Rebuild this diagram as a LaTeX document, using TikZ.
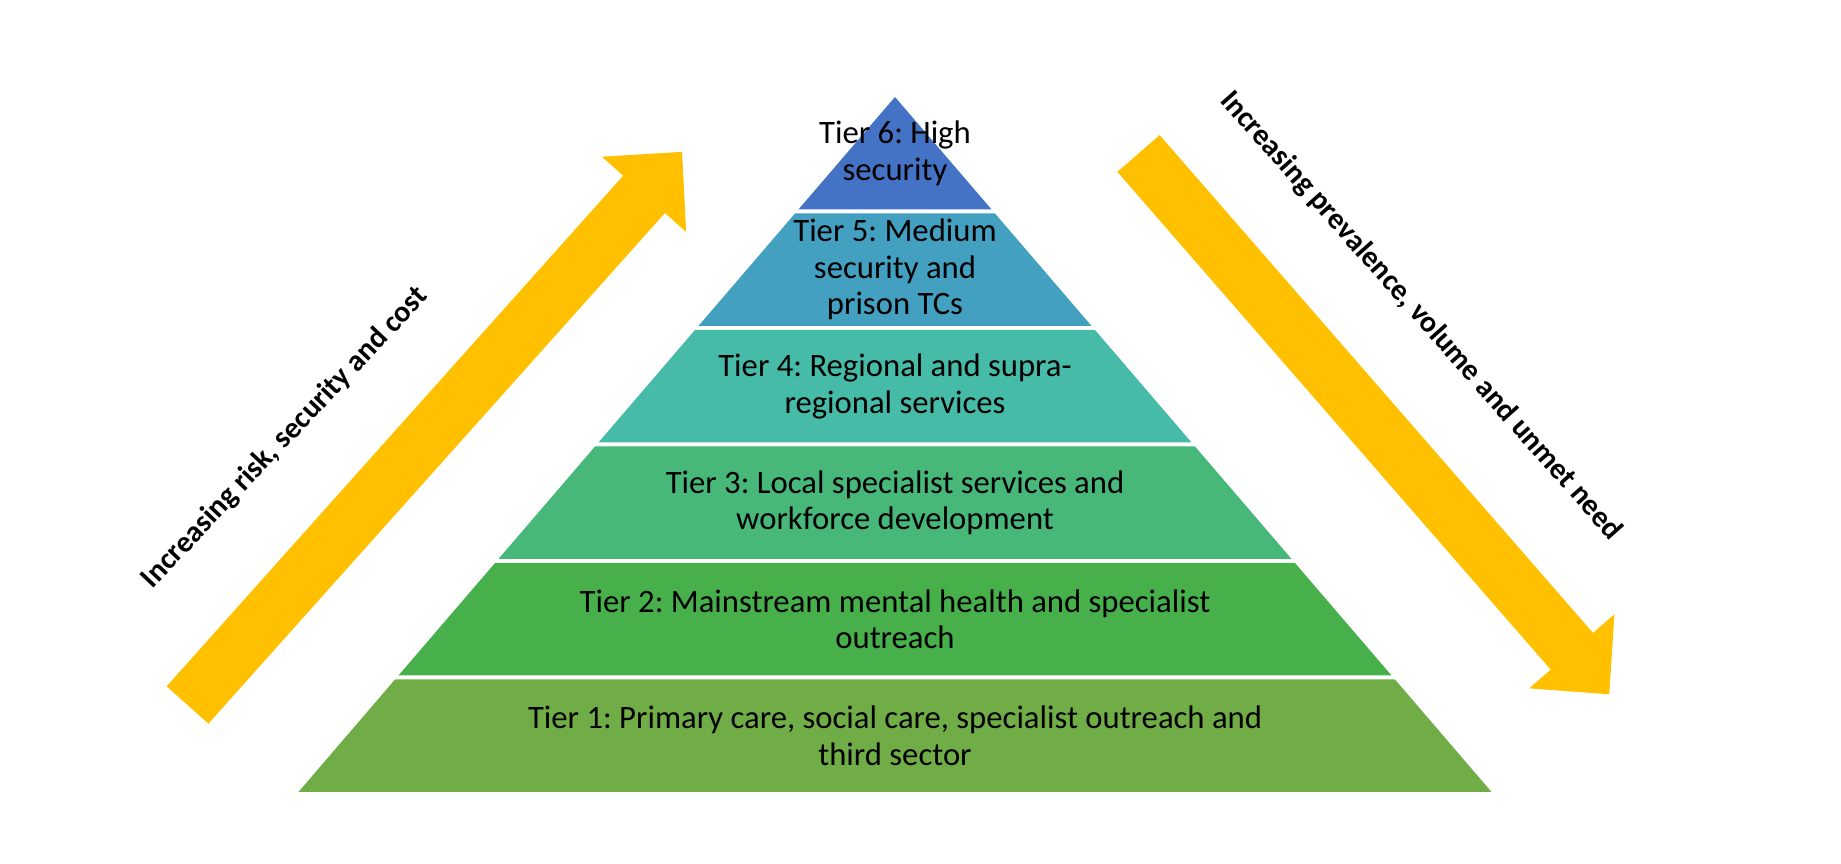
\documentclass[tikz,border=0pt]{standalone}
\usepackage{fontspec}
\setmainfont{Carlito}
\definecolor{arrowgold}{HTML}{FFC000}
\definecolor{tiersix}{HTML}{4472C4}
\definecolor{tierfive}{HTML}{43A0C1}
\definecolor{tierfour}{HTML}{45BBA8}
\definecolor{tierthree}{HTML}{47B77A}
\definecolor{tiertwo}{HTML}{47B04B}
\definecolor{tierone}{HTML}{70AD47}
\begin{document}
\begin{tikzpicture}[line join=round,font=\fontsize{9.3}{10.4}\selectfont\frenchspacing,
	tierlabel/.style={align=center,inner sep=0pt},
	sidelabel/.style={font=\fontsize{8.54}{10.4}\selectfont\bfseries\frenchspacing,inner sep=0pt}]
			\useasboundingbox (0,0) rectangle (18.41,8.64);
			%Apex of the pyramid
			\coordinate (A) at (8.95,7.67);
			%Tiers, from the base up
			\foreach \k/\col/\txt in {1/tierone/{Tier 1: Primary care, social care, specialist outreach and\\third sector},
				2/tiertwo/{Tier 2: Mainstream mental health and specialist\\outreach},
				3/tierthree/{Tier 3: Local specialist services and\\workforce development},
				4/tierfour/{Tier 4: Regional and supra-\\regional services},
				5/tierfive/{Tier 5: Medium\\security and\\prison TCs},
				6/tiersix/{Tier 6: High\\security}}{
				\pgfmathsetmacro\yb{0.72+(\k-1)*1.165}
				\pgfmathsetmacro\yt{min(\yb+1.125,7.67)}
				\pgfmathsetmacro\wb{0.8583*(7.67-\yb)}
				\pgfmathsetmacro\wt{0.8583*(7.67-\yt)}
				\fill[\col] (8.95-\wb,\yb)--(8.95+\wb,\yb)--(8.95+\wt,\yt)--(8.95-\wt,\yt)--cycle;
				\node[tierlabel] (t\k) at (8.95,\yb+0.5625) {\txt};
			}
			%Arrow going up
			\fill[arrowgold,shift={(1.875,1.59)},rotate=48.2] (0,-0.28)--(6.85,-0.28)--(6.85,-0.565)--(7.42,0)--(6.85,0.565)--(6.85,0.28)--(0,0.28)--cycle;
			%Arrow going down
			\fill[arrowgold,shift={(11.385,7.105)},rotate=-48.96] (0,-0.28)--(6.6,-0.28)--(6.6,-0.565)--(7.17,0)--(6.6,0.565)--(6.6,0.28)--(0,0.28)--cycle;
			%Labels of the arrows
			\node[sidelabel,rotate=46.6] (risk) at (2.85,4.26) {Increasing risk, security and cost};
			\node[sidelabel,rotate=-48.4] (need) at (14.21,5.48) {Increasing prevalence, volume and unmet need};
		\end{tikzpicture}
\end{document}
